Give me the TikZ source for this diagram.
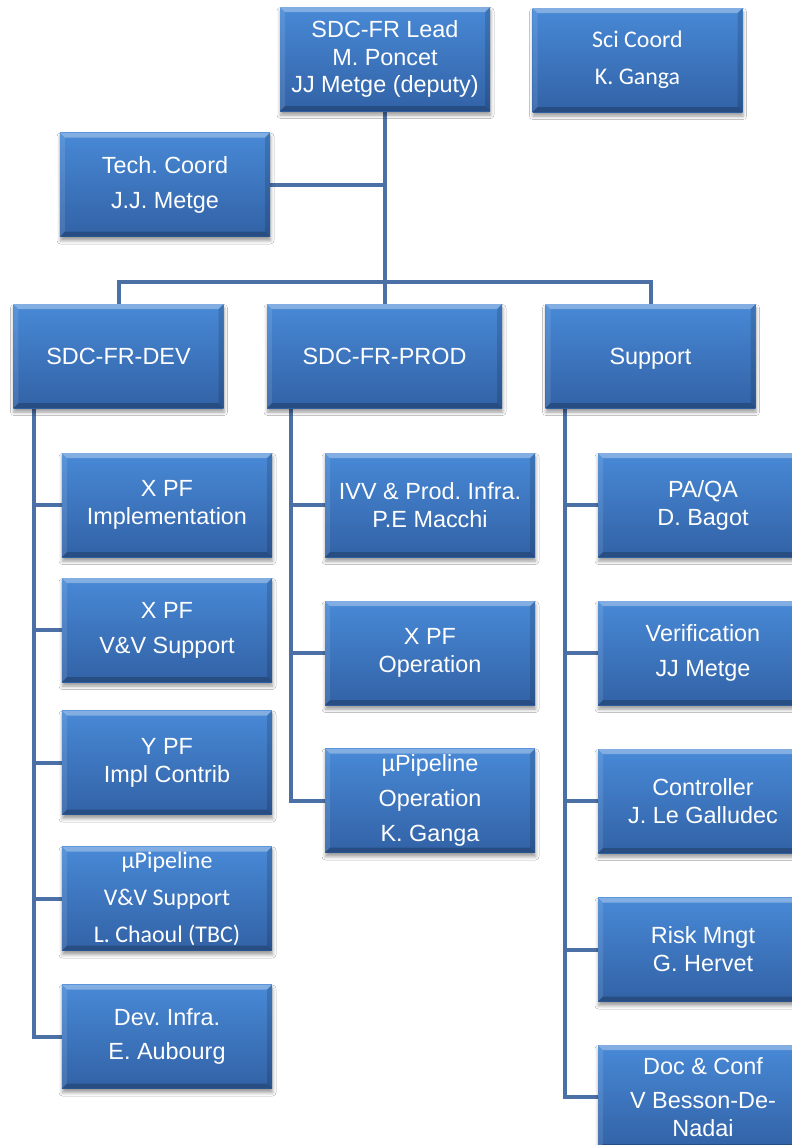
\documentclass[tikz,border=0pt]{standalone}
\usepackage{fontspec}
\setmainfont{Liberation Sans}
\newfontfamily\calib{Carlito}
\usetikzlibrary{shadows.blur,backgrounds}
\definecolor{linec}{RGB}{74,112,165}
\definecolor{boxtop}{RGB}{72,137,214}
\definecolor{boxbot}{RGB}{50,98,166}
\tikzset{
  obox/.style={rectangle, inner sep=0pt, minimum width=210bp, minimum height=104bp,
    top color=boxtop, bottom color=boxbot, text=white, align=center,
    font=\frenchspacing\fontsize{23.5}{28}\selectfont,
    blur shadow={shadow xshift=0.5bp, shadow yshift=-4bp, shadow blur radius=3.5bp, shadow opacity=40},
    path picture={
      \fill[white,opacity=0.32] (path picture bounding box.north west) -- (path picture bounding box.north east)
        -- ([shift={(-5bp,-5bp)}]path picture bounding box.north east) -- ([shift={(5bp,-5bp)}]path picture bounding box.north west) -- cycle;
      \fill[white,opacity=0.10] (path picture bounding box.north west) -- ([shift={(5bp,-5bp)}]path picture bounding box.north west)
        -- ([shift={(5bp,5bp)}]path picture bounding box.south west) -- (path picture bounding box.south west) -- cycle;
      \fill[black,opacity=0.14] (path picture bounding box.north east) -- ([shift={(-5bp,-5bp)}]path picture bounding box.north east)
        -- ([shift={(-5bp,5bp)}]path picture bounding box.south east) -- (path picture bounding box.south east) -- cycle;
      \fill[black,opacity=0.22] (path picture bounding box.south west) -- ([shift={(5bp,5bp)}]path picture bounding box.south west)
        -- ([shift={(-5bp,5bp)}]path picture bounding box.south east) -- (path picture bounding box.south east) -- cycle;
    }},
  cbox/.style={obox, font=\frenchspacing\calib\fontsize{24}{37}\selectfont},
  onebox/.style={obox, text height=17bp, text depth=0bp},
  conn/.style={draw=linec, line width=4bp},
}
\begin{document}
\begin{tikzpicture}[x=1bp,y=-1bp]
\useasboundingbox (0,0) rectangle (792,1145);
% level 0
\node[obox] (lead) at (385,59) {SDC-FR Lead\\M. Poncet\\JJ Metge (deputy)};
\node[cbox] (sci) at (637.5,60) {Sci Coord\\K. Ganga};
\node[obox] (tech) at (165,184.5) {Tech. Coord\\[7bp]J.J. Metge};
% level 1
\node[onebox] (dev) at (118.5,356) {SDC-FR-DEV};
\node[onebox, minimum width=235bp] (prod) at (384.5,356) {SDC-FR-PROD};
\node[onebox] (sup) at (650.5,356) {Support};
% DEV children
\node[obox] (d1) at (167,505) {X PF\\Implementation};
\node[obox] (d2) at (167,630) {X PF\\[7bp]V\&V Support};
\node[obox] (d3) at (167,762.5) {Y PF\\Impl Contrib};
\node[cbox] (d4) at (167,898.5) {µPipeline\\V\&V Support\\L. Chaoul (TBC)};
\node[obox] (d5) at (167,1036.5) {Dev. Infra.\\[6bp]E. Aubourg};
% PROD children
\node[obox] (p1) at (430,505) {IVV \& Prod. Infra.\\P.E Macchi};
\node[obox] (p2) at (430,653) {X PF\\Operation};
\node[obox] (p3) at (430,800.5) {µPipeline\\[7bp]Operation\\[7bp]K. Ganga};
% Support children
\node[obox] (s1) at (703,505) {PA/QA\\D. Bagot};
\node[obox] (s2) at (703,653) {Verification\\[7bp]JJ Metge};
\node[obox] (s3) at (703,801) {Controller\\J. Le Galludec};
\node[obox] (s4) at (703,949.5) {Risk Mngt\\G. Hervet};
\node[obox] (s5) at (703,1097) {Doc \& Conf\\[6bp]V Besson-De-\\Nadai};
% connectors
\begin{scope}[on background layer]
\fill[white] (0,0) rectangle (792,1145);
\coordinate (bus) at (385,282);
\draw[conn] (lead.south) -- (lead.south |- prod.north);
\draw[conn] (tech.east) -- (tech.east -| lead.south);
\draw[conn] (dev.north) |- (bus) -| (sup.north);
\foreach \c in {d1,d2,d3,d4,d5}
  \draw[conn] ([xshift=21bp]dev.south west) |- (\c.west);
\foreach \c in {p1,p2,p3}
  \draw[conn] ([xshift=24bp]prod.south west) |- (\c.west);
\foreach \c in {s1,s2,s3,s4,s5}
  \draw[conn] ([xshift=20bp]sup.south west) |- (\c.west);
\end{scope}
\end{tikzpicture}
\end{document}
